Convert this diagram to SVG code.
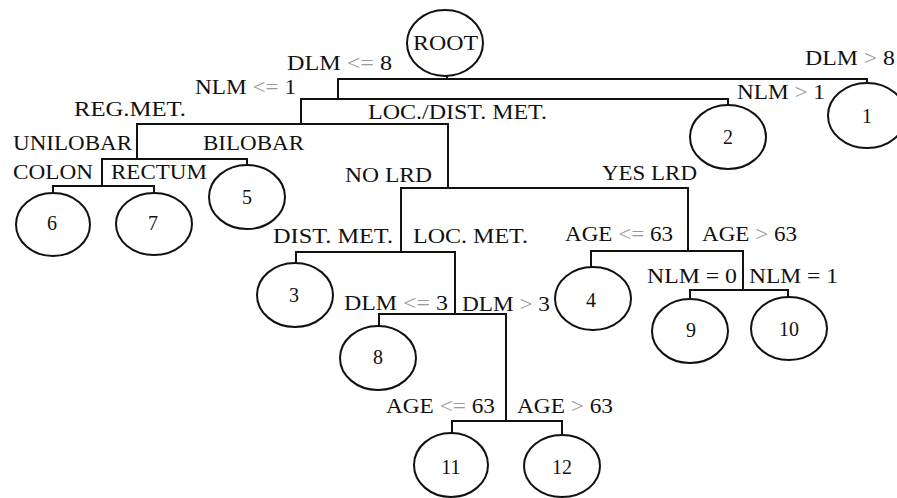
<svg xmlns="http://www.w3.org/2000/svg" width="897" height="498" viewBox="0 0 897 498">
<style>
.bg{fill:#ffffff}
.e{fill:#ffffff;stroke:#111;stroke-width:2}
.c{fill:none;stroke:#111;stroke-width:2}
.l{font-family:"Liberation Serif","Times New Roman",serif;font-size:21px;fill:#111}
.n{font-family:"Liberation Serif","Times New Roman",serif;font-size:20px;fill:#111;text-anchor:middle}
.g{fill:#9a9a9a}
</style>
<rect class="bg" x="0" y="0" width="897" height="498"/>
<g id="connectors">
<path class="c" d="M447,76 V79"/>
<path class="c" d="M338,99 V79 H867 V83"/>
<path class="c" d="M301,124 V99 H728 V105"/>
<path class="c" d="M137,159 V124 H448 V188"/>
<path class="c" d="M102,186 V159 H247 V165"/>
<path class="c" d="M53,193 V186 H154 V193"/>
<path class="c" d="M401,252 V188 H688 V251"/>
<path class="c" d="M296,263 V252 H455 V314"/>
<path class="c" d="M379,326 V314 H506 V421"/>
<path class="c" d="M452,433 V421 H562 V435"/>
<path class="c" d="M591,267 V251 H743 V290"/>
<path class="c" d="M690,299 V290 H788 V297"/>
</g>
<g id="labels">
<text class="l" x="287" y="70" textLength="105" lengthAdjust="spacingAndGlyphs">DLM <tspan class="g">&lt;=</tspan> 8</text>
<text class="l" x="805" y="65" textLength="90" lengthAdjust="spacingAndGlyphs">DLM <tspan class="g">&gt;</tspan> 8</text>
<text class="l" x="195" y="94" textLength="101" lengthAdjust="spacingAndGlyphs">NLM <tspan class="g">&lt;=</tspan> 1</text>
<text class="l" x="737" y="99" textLength="88" lengthAdjust="spacingAndGlyphs">NLM <tspan class="g">&gt;</tspan> 1</text>
<text class="l" x="74" y="116" textLength="112" lengthAdjust="spacingAndGlyphs">REG.MET.</text>
<text class="l" x="368" y="119" textLength="179" lengthAdjust="spacingAndGlyphs">LOC./DIST. MET.</text>
<text class="l" x="13" y="150" textLength="119" lengthAdjust="spacingAndGlyphs">UNILOBAR</text>
<text class="l" x="203" y="150" textLength="101" lengthAdjust="spacingAndGlyphs">BILOBAR</text>
<text class="l" x="13" y="179" textLength="80" lengthAdjust="spacingAndGlyphs">COLON</text>
<text class="l" x="111" y="179" textLength="96" lengthAdjust="spacingAndGlyphs">RECTUM</text>
<text class="l" x="345" y="182" textLength="87" lengthAdjust="spacingAndGlyphs">NO LRD</text>
<text class="l" x="602" y="180" textLength="95" lengthAdjust="spacingAndGlyphs">YES LRD</text>
<text class="l" x="273" y="243" textLength="120" lengthAdjust="spacingAndGlyphs">DIST. MET.</text>
<text class="l" x="413" y="243" textLength="115" lengthAdjust="spacingAndGlyphs">LOC. MET.</text>
<text class="l" x="565" y="241" textLength="108" lengthAdjust="spacingAndGlyphs">AGE <tspan class="g">&lt;=</tspan> 63</text>
<text class="l" x="702" y="241" textLength="95" lengthAdjust="spacingAndGlyphs">AGE <tspan class="g">&gt;</tspan> 63</text>
<text class="l" x="647" y="283" textLength="90" lengthAdjust="spacingAndGlyphs">NLM = 0</text>
<text class="l" x="749" y="283" textLength="89" lengthAdjust="spacingAndGlyphs">NLM = 1</text>
<text class="l" x="344" y="310" textLength="104" lengthAdjust="spacingAndGlyphs">DLM <tspan class="g">&lt;=</tspan> 3</text>
<text class="l" x="462" y="311" textLength="88" lengthAdjust="spacingAndGlyphs">DLM <tspan class="g">&gt;</tspan> 3</text>
<text class="l" x="386" y="413" textLength="109" lengthAdjust="spacingAndGlyphs">AGE <tspan class="g">&lt;=</tspan> 63</text>
<text class="l" x="517" y="413" textLength="96" lengthAdjust="spacingAndGlyphs">AGE <tspan class="g">&gt;</tspan> 63</text>
</g>
<g id="root"><ellipse class="e" cx="445" cy="43" rx="38" ry="33"/><text class="l" x="413" y="50" font-size="20" textLength="65" lengthAdjust="spacingAndGlyphs">ROOT</text></g>
<g id="n1"><ellipse class="e" cx="867" cy="115.5" rx="39" ry="32.5"/><text class="n" x="867" y="123">1</text></g>
<g id="n2"><ellipse class="e" cx="728" cy="137" rx="38" ry="32"/><text class="n" x="728" y="144">2</text></g>
<g id="n3"><ellipse class="e" cx="295" cy="295" rx="38" ry="32"/><text class="n" x="294" y="302">3</text></g>
<g id="n4"><ellipse class="e" cx="593" cy="298.5" rx="38" ry="31.5"/><text class="n" x="591" y="307">4</text></g>
<g id="n5"><ellipse class="e" cx="247" cy="197" rx="38" ry="32"/><text class="n" x="247" y="204">5</text></g>
<g id="n6"><ellipse class="e" cx="53" cy="224.5" rx="37" ry="31.5"/><text class="n" x="52" y="230">6</text></g>
<g id="n7"><ellipse class="e" cx="154" cy="224" rx="38" ry="31"/><text class="n" x="153" y="230">7</text></g>
<g id="n8"><ellipse class="e" cx="378" cy="358" rx="38" ry="32"/><text class="n" x="378" y="364">8</text></g>
<g id="n9"><ellipse class="e" cx="690" cy="331" rx="38" ry="32"/><text class="n" x="691" y="337">9</text></g>
<g id="n10"><ellipse class="e" cx="789" cy="328.5" rx="38" ry="31.5"/><text class="n" x="789" y="336">10</text></g>
<g id="n11"><ellipse class="e" cx="451" cy="465" rx="37" ry="32"/><text class="n" x="451" y="474">11</text></g>
<g id="n12"><ellipse class="e" cx="562" cy="466" rx="38" ry="31"/><text class="n" x="562" y="474">12</text></g>
</svg>
